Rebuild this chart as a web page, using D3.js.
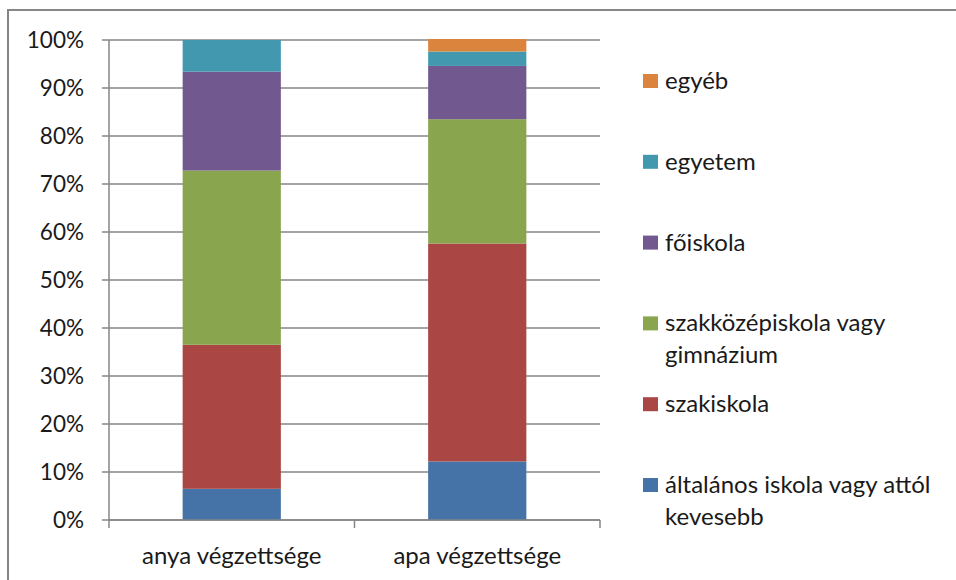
<!DOCTYPE html>
<html>
<head>
<meta charset="utf-8">
<script src="https://cdn.jsdelivr.net/npm/d3@7"></script>
<style>
  body { margin: 0; background: #fff; }
  text { font-family: Lato, "Open Sans", sans-serif; fill: #1a1a1a; }
</style>
</head>
<body>
<div id="chart"></div>
<script>
const width = 956
const height = 580
const margin = { top: 40, bottom: 60, left: 109, right: 356 }

// data (percent)
const categories = ["anya végzettsége", "apa végzettsége"]
const seriesNames = ["általános iskola vagy attól kevesebb", "szakiskola", "szakközépiskola vagy gimnázium", "főiskola", "egyetem", "egyéb"]
const altalanos = [6.5, 12.2]
const szakiskola = [30.0, 45.4]
const szakkozep = [36.3, 25.9]
const foiskola = [20.6, 11.1]
const egyetem = [6.6, 3.0]
const egyeb = [0, 2.6]
const colors = ["#4572A7", "#AA4643", "#89A54E", "#71588F", "#4198AF", "#DB843D"]
const yTicks = [0, 10, 20, 30, 40, 50, 60, 70, 80, 90, 100]

const seriesValues = [altalanos, szakiskola, szakkozep, foiskola, egyetem, egyeb]
const table = categories.map((c, i) => {
    const row = { cat: c }
    seriesNames.forEach((s, j) => row[s] = seriesValues[j][i])
    return row
})
const stacked = d3.stack().keys(seriesNames)(table)

const svg = d3.select("#chart").append("svg").attr("width", width).attr("height", height)

// outer chart border
svg.append("rect").attr("x", 8).attr("y", 10).attr("width", 1000).attr("height", 1000)
    .attr("fill", "none").attr("stroke", "#868686").attr("stroke-width", 2)

const innerW = width - margin.left - margin.right
const innerH = height - margin.top - margin.bottom
const g = svg.append("g").attr("transform", `translate(${margin.left}, ${margin.top})`)

const x = d3.scaleBand().domain(categories).range([0, innerW])
const y = d3.scaleLinear().domain([0, 100]).range([innerH, 0])

// gridlines
g.append("g").selectAll("line").data(yTicks).enter().append("line")
    .attr("x1", -7).attr("x2", innerW)
    .attr("y1", d => y(d)).attr("y2", d => y(d))
    .attr("stroke", "#868686").attr("stroke-width", 1.5)

// y labels
g.append("g").selectAll("text").data(yTicks).enter().append("text")
    .attr("x", -25).attr("y", d => y(d)).attr("dy", "0.35em")
    .attr("text-anchor", "end").attr("font-size", 22.5)
    .text(d => d + "%")

// bars
const barW = x.bandwidth() * 0.4
g.append("g").selectAll("g").data(stacked).enter().append("g")
    .attr("fill", (d, i) => colors[i])
    .selectAll("rect").data(d => d).enter().append("rect")
    .attr("x", d => x(d.data.cat) + (x.bandwidth() - barW) / 2)
    .attr("y", d => y(d[1]))
    .attr("width", barW)
    .attr("height", d => y(d[0]) - y(d[1]))

// axes lines and category ticks
g.append("line").attr("x1", 0).attr("x2", 0).attr("y1", 0).attr("y2", innerH + 8)
    .attr("stroke", "#868686").attr("stroke-width", 1.5)
g.append("line").attr("x1", 0).attr("x2", innerW).attr("y1", innerH).attr("y2", innerH)
    .attr("stroke", "#868686").attr("stroke-width", 1.5)
g.append("g").selectAll("line").data(categories).enter().append("line")
    .attr("x1", d => x(d) + x.bandwidth()).attr("x2", d => x(d) + x.bandwidth())
    .attr("y1", innerH).attr("y2", innerH + 8)
    .attr("stroke", "#868686").attr("stroke-width", 1.5)

g.append("g").selectAll("text").data(categories).enter().append("text")
    .attr("x", d => x(d) + x.bandwidth() / 2).attr("y", innerH + 44)
    .attr("text-anchor", "middle").attr("font-size", 24)
    .text(d => d)

// legend, top item = last series
const legendY = d3.scalePoint().domain(seriesNames.slice().reverse()).range([81, 485])
const legend = svg.append("g").selectAll("g").data(seriesNames).enter().append("g")
    .attr("transform", d => `translate(643, ${legendY(d)})`)
legend.append("rect").attr("x", 0).attr("y", -7).attr("width", 15).attr("height", 14)
    .attr("fill", (d, i) => colors[i])
legend.each(function (d) {
    const t = d3.select(this).append("text").attr("x", 22).attr("font-size", 24)
    const words = d.split(" ")
    let line = []
    let tspan = t.append("tspan").attr("x", 22)
    words.forEach(w => {
        line.push(w)
        tspan.text(line.join(" "))
        if (tspan.node().getComputedTextLength() > 285 && line.length > 1) {
            line.pop()
            tspan.text(line.join(" "))
            line = [w]
            tspan = t.append("tspan").attr("x", 22).attr("dy", 32).text(w)
        }
    })
    t.attr("y", 8)
})
</script>
</body>
</html>
